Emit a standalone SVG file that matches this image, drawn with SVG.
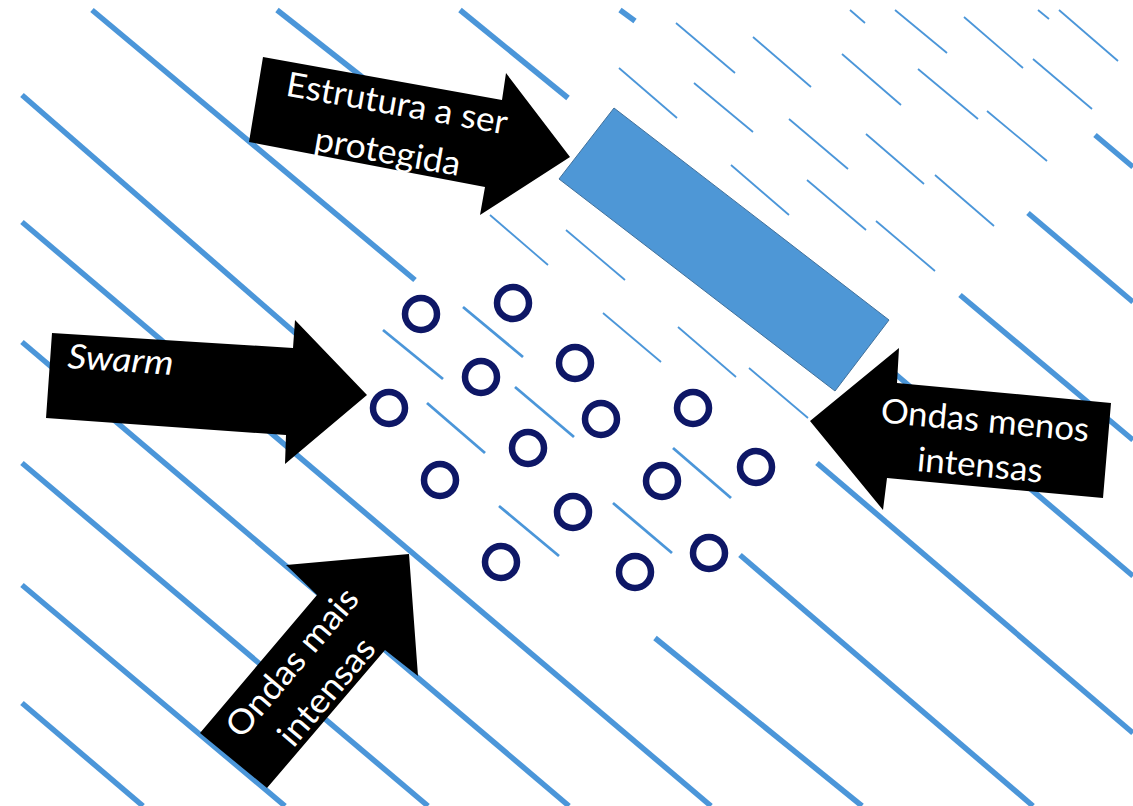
<svg xmlns="http://www.w3.org/2000/svg" width="1133" height="806" viewBox="0 0 1133 806">
  <style>
    .strong { stroke: #4B96D9; stroke-width: 5.5; fill: none; }
    .mid { stroke: #4B96D9; stroke-width: 2.8; fill: none; }
    .weak { stroke: #4B96D9; stroke-width: 1.8; fill: none; }
    .bot { fill: none; stroke: #0E1766; stroke-width: 6.5; }
    .arrow { fill: #000000; }
    .lbl { fill: #FFFFFF; font-family: Lato, "Liberation Sans", sans-serif; font-size: 34px; text-anchor: middle; }
  </style>
  <rect width="1133" height="806" fill="#FFFFFF"/>

  <!-- wave crests: full strength in open water -->
  <g id="waves-strong">
    <line class="strong" x1="92" y1="10" x2="415" y2="280"/>
    <line class="strong" x1="740" y1="555" x2="1033" y2="806"/>
    <line class="strong" x1="277" y1="10" x2="385" y2="95"/>
    <line class="strong" x1="817" y1="463" x2="1133" y2="733"/>
    <line class="strong" x1="460" y1="10" x2="568" y2="98"/>
    <line class="strong" x1="893" y1="372" x2="1133" y2="576"/>
    <line class="strong" x1="620" y1="10" x2="635" y2="21"/>
    <line class="strong" x1="960" y1="295" x2="1133" y2="440"/>
    <line class="strong" x1="1028" y1="213" x2="1133" y2="302"/>
    <line class="strong" x1="1095" y1="135" x2="1133" y2="167"/>
    <line class="strong" x1="22" y1="95" x2="340" y2="372"/>
    <line class="strong" x1="655" y1="638" x2="862" y2="806"/>
    <line class="strong" x1="22" y1="222" x2="711" y2="806"/>
    <line class="strong" x1="22" y1="342" x2="569" y2="806"/>
    <line class="strong" x1="22" y1="463" x2="428" y2="806"/>
    <line class="strong" x1="22" y1="585" x2="285" y2="806"/>
    <line class="strong" x1="22" y1="703" x2="143" y2="806"/>
  </g>

  <!-- crests broken up inside the swarm -->
  <g id="waves-swarm">
    <line class="mid" x1="383" y1="330" x2="443" y2="379"/>
    <line class="mid" x1="463" y1="307" x2="523" y2="357"/>
    <line class="mid" x1="427" y1="403" x2="485" y2="453"/>
    <line class="mid" x1="515" y1="387" x2="574" y2="437"/>
    <line class="mid" x1="499" y1="506" x2="559" y2="556"/>
    <line class="mid" x1="613" y1="503" x2="672" y2="553"/>
    <line class="mid" x1="673" y1="448" x2="731" y2="498"/>
  </g>

  <!-- weakened crests in the sheltered zone -->
  <g id="waves-weak">
    <line class="weak" x1="850" y1="10" x2="865" y2="23"/>
    <line class="weak" x1="895" y1="10" x2="947" y2="53"/>
    <line class="weak" x1="964" y1="17" x2="1023" y2="68"/>
    <line class="weak" x1="1038" y1="10" x2="1049" y2="19"/>
    <line class="weak" x1="1059" y1="10" x2="1118" y2="61"/>
    <line class="weak" x1="753" y1="37" x2="811" y2="87"/>
    <line class="weak" x1="842" y1="54" x2="901" y2="105"/>
    <line class="weak" x1="918" y1="69" x2="978" y2="119"/>
    <line class="weak" x1="1033" y1="59" x2="1092" y2="109"/>
    <line class="weak" x1="789" y1="119" x2="848" y2="169"/>
    <line class="weak" x1="866" y1="134" x2="924" y2="184"/>
    <line class="weak" x1="987" y1="111" x2="1047" y2="161"/>
    <line class="weak" x1="731" y1="165" x2="789" y2="215"/>
    <line class="weak" x1="807" y1="180" x2="866" y2="230"/>
    <line class="weak" x1="935" y1="175" x2="994" y2="226"/>
    <line class="weak" x1="876" y1="221" x2="935" y2="271"/>
    <line class="weak" x1="749" y1="368" x2="808" y2="418"/>
    <line class="weak" x1="676" y1="23" x2="735" y2="73"/>
    <line class="weak" x1="619" y1="68" x2="677" y2="118"/>
    <line class="weak" x1="694" y1="83" x2="753" y2="132"/>
    <line class="weak" x1="490" y1="215" x2="548" y2="265"/>
    <line class="weak" x1="566" y1="230" x2="625" y2="280"/>
    <line class="weak" x1="603" y1="313" x2="661" y2="362"/>
    <line class="weak" x1="678" y1="327" x2="736" y2="377"/>
  </g>

  <!-- protected structure -->
  <g id="structure">
    <polygon points="614,108 889,320 835,391 559,179" fill="#4E97D6" stroke="#41719C" stroke-width="1"/>
  </g>

  <!-- swarm units -->
  <g id="swarm">
    <circle class="bot" cx="421" cy="314" r="16"/>
    <circle class="bot" cx="513" cy="303" r="16"/>
    <circle class="bot" cx="481" cy="377" r="16"/>
    <circle class="bot" cx="575" cy="363" r="16"/>
    <circle class="bot" cx="389" cy="408" r="16"/>
    <circle class="bot" cx="601" cy="419" r="16"/>
    <circle class="bot" cx="528" cy="448" r="16"/>
    <circle class="bot" cx="693" cy="408" r="16"/>
    <circle class="bot" cx="440" cy="480" r="16"/>
    <circle class="bot" cx="662" cy="481" r="16"/>
    <circle class="bot" cx="756" cy="467" r="16"/>
    <circle class="bot" cx="573" cy="512" r="16"/>
    <circle class="bot" cx="501" cy="562" r="16"/>
    <circle class="bot" cx="635" cy="572" r="16"/>
    <circle class="bot" cx="709" cy="553" r="16"/>
  </g>

  <!-- callout arrows -->
  <g id="arrow-structure">
    <polygon class="arrow" points="263,57 502,100 506,73 570,157 480,215 485,187 249,142"/>
    <g transform="translate(395,115) rotate(10)">
      <text class="lbl" x="0" y="0" textLength="224" lengthAdjust="spacingAndGlyphs">Estrutura a ser</text>
      <text class="lbl" x="-1" y="49" textLength="148" lengthAdjust="spacingAndGlyphs">protegida</text>
    </g>
  </g>

  <g id="arrow-swarm">
    <polygon class="arrow" points="52,333 293,348 295,320 367,395 285,464 286,435 46,418"/>
    <text class="lbl" transform="translate(67,368) rotate(3.7)" x="0" y="0" style="text-anchor:start;font-style:italic" textLength="106" lengthAdjust="spacingAndGlyphs">Swarm</text>
  </g>

  <g id="arrow-weak-waves">
    <polygon class="arrow" points="810,421 899,348 897,383 1111,403 1103,498 887,478 883,510"/>
    <g transform="translate(984,432) rotate(5.3)">
      <text class="lbl" x="0" y="0" textLength="209" lengthAdjust="spacingAndGlyphs">Ondas menos</text>
      <text class="lbl" x="-1" y="45" textLength="126" lengthAdjust="spacingAndGlyphs">intensas</text>
    </g>
  </g>

  <g id="arrow-strong-waves">
    <polygon class="arrow" points="409,554 418,676 385,650 267,788 200,733 317,595 286,565"/>
    <g transform="translate(301,670) rotate(-49.6)">
      <text class="lbl" x="0" y="0" textLength="184" lengthAdjust="spacingAndGlyphs">Ondas mais</text>
      <text class="lbl" x="0" y="45" textLength="130" lengthAdjust="spacingAndGlyphs">intensas</text>
    </g>
  </g>
</svg>
